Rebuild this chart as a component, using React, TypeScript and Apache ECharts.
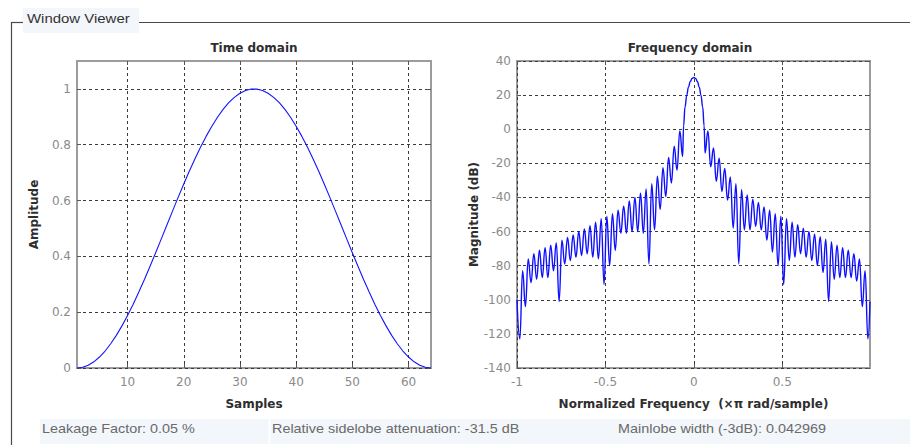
import { useEffect, useRef } from "react";
import * as echarts from "echarts";

// ---------- Time domain data (window samples) ----------
const samples = [
  1, 2, 3, 4, 5, 6, 7, 8, 9, 10, 11, 12, 13, 14, 15, 16, 17, 18, 19, 20, 21, 22, 23, 24, 25, 26, 27, 28, 29, 30, 31, 32,
  33, 34, 35, 36, 37, 38, 39, 40, 41, 42, 43, 44, 45, 46, 47, 48, 49, 50, 51, 52, 53, 54, 55, 56, 57, 58, 59, 60, 61, 62, 63, 64,
];
const amplitude = [
  0, 0.0025, 0.0099, 0.0222, 0.0393, 0.0609, 0.0869, 0.117, 0.1509, 0.1883, 0.2288, 0.272, 0.3173, 0.3646, 0.4132, 0.4626,
  0.5125, 0.5622, 0.6113, 0.6592, 0.7057, 0.75, 0.7919, 0.8308, 0.8665, 0.8986, 0.9266, 0.9505, 0.9698, 0.9845, 0.9944, 0.9994,
  0.9994, 0.9944, 0.9845, 0.9698, 0.9505, 0.9266, 0.8986, 0.8665, 0.8308, 0.7919, 0.75, 0.7057, 0.6592, 0.6113, 0.5622, 0.5125,
  0.4626, 0.4132, 0.3646, 0.3173, 0.272, 0.2288, 0.1883, 0.1509, 0.117, 0.0869, 0.0609, 0.0393, 0.0222, 0.0099, 0.0025, 0,
];

// ---------- Frequency domain data ----------
// sidelobe null positions (|f|, x pi rad/sample)
const nullFreq = [
  0.0635, 0.0952, 0.127, 0.1587, 0.1905, 0.2222, 0.254, 0.2857, 0.3175, 0.3492, 0.381, 0.4127, 0.4444, 0.4762, 0.5079,
  0.5397, 0.5714, 0.6032, 0.6349, 0.6667, 0.6984, 0.7302, 0.7619, 0.7937, 0.8254, 0.8571, 0.8889, 0.9206, 0.9524, 0.9841,
];
// sidelobe peak positions (|f|)
const peakFreq = [
  0.0794, 0.1111, 0.1429, 0.1746, 0.2063, 0.2381, 0.2698, 0.3016, 0.3333, 0.3651, 0.3968, 0.4286, 0.4603, 0.4921, 0.5238,
  0.5556, 0.5873, 0.619, 0.6508, 0.6825, 0.7143, 0.746, 0.7778, 0.8095, 0.8413, 0.873, 0.9048, 0.9365, 0.9683,
];
const rightNullDb = [
  -14, -22, -30.5, -36.5, -41.5, -58, -79, -59, -59, -57, -59, -65, -72, -80, -91,
  -77, -75, -73, -75, -77, -80, -84, -101, -88, -87, -87, -87, -89, -104, -123,
];
const rightPeakDb = [
  -1, -11, -17, -23, -28, -32, -35.5, -38.5, -41, -43, -45.5, -47.5, -49.5, -51, -52.5,
  -54.5, -56, -58, -60, -61.5, -63, -64.5, -66, -68, -69.5, -71, -73, -76, -83,
];
const leftNullDb = [
  -16, -24, -31.5, -39.5, -47, -59, -79, -61, -60, -60, -61, -61, -71, -80, -91,
  -76, -75, -73, -74, -75, -77, -79, -101, -83, -87, -87, -88, -90, -104, -123,
];
const leftPeakDb = [
  -1, -10, -16.5, -22.5, -27.5, -32, -35, -37.5, -40, -42, -45, -47.5, -49.5, -51, -52.5,
  -54.5, -56.5, -58.5, -60, -62, -63.5, -65, -66.5, -68, -69.5, -71, -73, -76, -83,
];
// main lobe
const mainFreq = [-0.058, -0.05, -0.04, -0.031, -0.02, -0.01, 0, 0.01, 0.02, 0.031, 0.04, 0.05, 0.058];
const mainDb = [2, 13, 20, 24.5, 28, 29.8, 30.3, 29.8, 28, 24.5, 20, 13, 2];
// band edges
const edgeFreq = [-1, 0.996];
const edgeDb = [-100, -101];

// tick labels
const timeXTicks = [10, 20, 30, 40, 50, 60];
const timeYTicks = [0, 0.2, 0.4, 0.6, 0.8, 1];
const freqXTicks = [-1, -0.5, 0, 0.5];

function buildFreqLine(): number[][] {
  const pts: number[][] = [[edgeFreq[0], edgeDb[0]]];
  for (let i = nullFreq.length - 1; i >= 0; i--) {
    pts.push([-nullFreq[i], leftNullDb[i]]);
    if (i > 0) pts.push([-peakFreq[i - 1], leftPeakDb[i - 1]]);
  }
  for (let i = 0; i < mainFreq.length; i++) pts.push([mainFreq[i], mainDb[i]]);
  for (let i = 0; i < nullFreq.length; i++) {
    pts.push([nullFreq[i], rightNullDb[i]]);
    if (i < peakFreq.length) pts.push([peakFreq[i], rightPeakDb[i]]);
  }
  pts.push([edgeFreq[1], edgeDb[1]]);
  return pts;
}

const FONT = "DejaVu Sans";
const labelStyle = { color: "#8a8a8a", fontFamily: FONT, fontSize: 12 };
const nameStyle = { color: "#2e2e2e", fontFamily: FONT, fontSize: 12, fontWeight: "bold" as const };
const splitLine = { show: true, lineStyle: { color: "#3a3a3a", type: [3, 3], width: 1 } };
const tick = { show: true, inside: true, length: 4, lineStyle: { color: "#555", width: 1 } };
const noLine = { show: false, onZero: false };

export default function App() {
  const ref = useRef<HTMLDivElement>(null);
  useEffect(() => {
    const chart = echarts.init(ref.current!, null, { renderer: "svg" });
    const timeData = samples.map((s, i) => [s, amplitude[i]]);
    const freqData = buildFreqLine();
    const gridBase = { show: true, borderColor: "#9c9c9c", borderWidth: 2, backgroundColor: "#ffffff" };
    chart.setOption({
      animation: false,
      backgroundColor: "#ffffff",
      grid: [
        { ...gridBase, left: 77, top: 61, width: 354, height: 307 },
        { ...gridBase, left: 517, top: 61, width: 353, height: 307 },
      ],
      xAxis: [
        {
          gridIndex: 0, type: "value", min: 1, max: 64, position: "bottom",
          axisLine: noLine,
          axisTick: { ...tick, customValues: timeXTicks },
          axisLabel: { ...labelStyle, margin: 8, customValues: timeXTicks },
          splitLine,
          name: "Samples", nameLocation: "middle", nameGap: 30, nameTextStyle: nameStyle,
        },
        {
          gridIndex: 0, type: "value", min: 1, max: 64, position: "top",
          axisLine: noLine, axisTick: { ...tick, customValues: timeXTicks },
          axisLabel: { show: false }, splitLine: { show: false },
        },
        {
          gridIndex: 1, type: "value", min: -1, max: 0.996, interval: 0.5, position: "bottom",
          axisLine: noLine,
          axisTick: { ...tick, customValues: freqXTicks },
          axisLabel: { ...labelStyle, margin: 8, customValues: freqXTicks },
          splitLine,
          name: "Normalized Frequency  (\u00d7\u03c0 rad/sample)", nameLocation: "middle", nameGap: 30, nameTextStyle: nameStyle,
        },
        {
          gridIndex: 1, type: "value", min: -1, max: 0.996, interval: 0.5, position: "top",
          axisLine: noLine, axisTick: { ...tick, customValues: freqXTicks },
          axisLabel: { show: false }, splitLine: { show: false },
        },
      ],
      yAxis: [
        {
          gridIndex: 0, type: "value", min: 0, max: 1.1, interval: 0.2, position: "left",
          axisLine: noLine,
          axisTick: { ...tick, customValues: timeYTicks },
          axisLabel: { ...labelStyle, margin: 6, customValues: timeYTicks },
          splitLine,
          name: "Amplitude", nameLocation: "middle", nameGap: 37, nameTextStyle: nameStyle,
        },
        {
          gridIndex: 0, type: "value", min: 0, max: 1.1, interval: 0.2, position: "right",
          axisLine: noLine, axisTick: { ...tick, customValues: timeYTicks },
          axisLabel: { show: false }, splitLine: { show: false },
        },
        {
          gridIndex: 1, type: "value", min: -140, max: 40, interval: 20, position: "left",
          axisLine: noLine, axisTick: tick,
          axisLabel: { ...labelStyle, margin: 6 },
          splitLine,
          name: "Magnitude (dB)", nameLocation: "middle", nameGap: 37, nameTextStyle: nameStyle,
        },
        {
          gridIndex: 1, type: "value", min: -140, max: 40, interval: 20, position: "right",
          axisLine: noLine, axisTick: tick,
          axisLabel: { show: false }, splitLine: { show: false },
        },
      ],
      series: [
        {
          type: "line", xAxisIndex: 0, yAxisIndex: 0, data: timeData, showSymbol: false,
          lineStyle: { color: "#1414ff", width: 1.1 }, clip: true, silent: true,
        },
        {
          type: "line", xAxisIndex: 2, yAxisIndex: 2, data: freqData, showSymbol: false,
          smooth: 0.45, smoothMonotone: "x",
          lineStyle: { color: "#0f0fff", width: 1.4 }, clip: true, silent: true,
        },
      ],
      graphic: [
        { type: "line", shape: { x1: 11.5, y1: 22.5, x2: 24, y2: 22.5 }, style: { stroke: "#4a4a4a", lineWidth: 1.2 } },
        { type: "line", shape: { x1: 139, y1: 22.5, x2: 910, y2: 22.5 }, style: { stroke: "#4a4a4a", lineWidth: 1.2 } },
        { type: "line", shape: { x1: 11.5, y1: 22, x2: 11.5, y2: 445 }, style: { stroke: "#4a4a4a", lineWidth: 1.2 } },
        { type: "rect", shape: { x: 23, y: 8, width: 116, height: 25 }, style: { fill: "#f3f6fb" } },
        {
          type: "text", x: 27, y: 18.5, scaleX: 1.15,
          style: { text: "Window Viewer", fontSize: 13, fontFamily: "Liberation Sans", fill: "#333", verticalAlign: "middle" },
        },
        {
          type: "text", x: 254, y: 48,
          style: { text: "Time domain", fontSize: 12, fontFamily: FONT, fontWeight: "bold", fill: "#2e2e2e", align: "center", verticalAlign: "middle" },
        },
        {
          type: "text", x: 690, y: 48,
          style: { text: "Frequency domain", fontSize: 12, fontFamily: FONT, fontWeight: "bold", fill: "#2e2e2e", align: "center", verticalAlign: "middle" },
        },
        { type: "rect", shape: { x: 40, y: 419, width: 870, height: 25 }, style: { fill: "#f3f6fb" } },
        { type: "line", shape: { x1: 269.5, y1: 419, x2: 269.5, y2: 444 }, style: { stroke: "#ffffff", lineWidth: 2 } },
        {
          type: "text", x: 42, y: 429, scaleX: 1.2,
          style: { text: "Leakage Factor: 0.05 %", fontSize: 12, fontFamily: "Liberation Sans", fill: "#6a6a6a", verticalAlign: "middle" },
        },
        {
          type: "text", x: 272, y: 429, scaleX: 1.2,
          style: { text: "Relative sidelobe attenuation: -31.5 dB", fontSize: 12, fontFamily: "Liberation Sans", fill: "#6a6a6a", verticalAlign: "middle" },
        },
        {
          type: "text", x: 618, y: 429, scaleX: 1.2,
          style: { text: "Mainlobe width (-3dB): 0.042969", fontSize: 12, fontFamily: "Liberation Sans", fill: "#6a6a6a", verticalAlign: "middle" },
        },
      ],
    });
    return () => chart.dispose();
  }, []);
  return (
    <div
      ref={ref}
      style={{ position: "fixed", left: 0, top: 0, width: 910, height: 445, background: "#ffffff" }}
    />
  );
}
